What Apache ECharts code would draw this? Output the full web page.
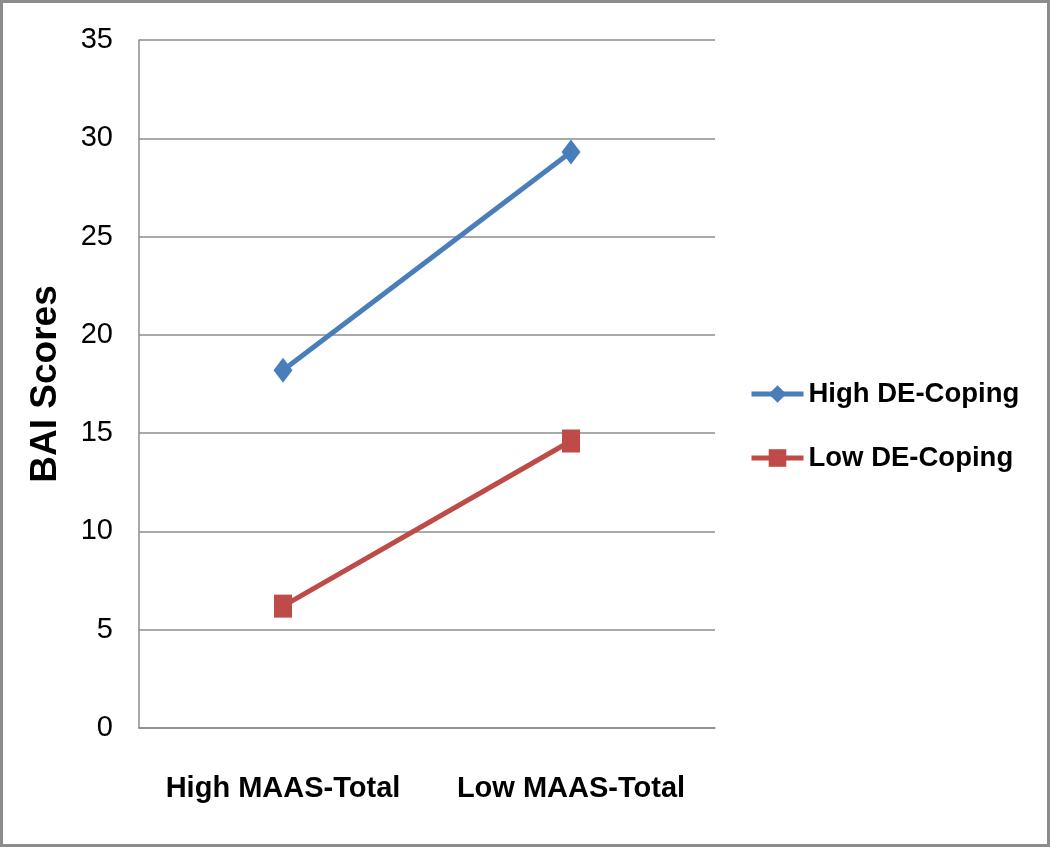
<!DOCTYPE html>
<html>
<head>
<meta charset="utf-8">
<script src="https://cdn.jsdelivr.net/npm/echarts@6/dist/echarts.min.js"></script>
<style>
    html, body { margin: 0; padding: 0; background: #fff; }
    #chartId { width: 1050px; height: 847px; box-sizing: border-box; border: 3px solid #8c8c8c; }
</style>
</head>
<body>
<div id="chartId"></div>
<script>
const categories = ["High MAAS-Total", "Low MAAS-Total"];
const highDECoping = [18.2, 29.3];
const lowDECoping = [6.2, 14.6];
const yTicks = [0, 5, 10, 15, 20, 25, 30, 35];

const fontName = "'Liberation Sans', Arial, sans-serif";

var chart = echarts.init(document.getElementById('chartId'));
var option = {
    animation: false,
    grid: {
        left: 136,
        right: 332,
        top: 37,
        bottom: 116
    },
    legend: {
        orient: 'vertical',
        left: 741,
        top: 372,
        itemWidth: 52,
        itemHeight: 22,
        itemGap: 36,
        lineStyle: { width: 5 },
        textStyle: {
            fontFamily: fontName,
            fontSize: 27.5,
            fontWeight: 'bold',
            color: '#000'
        },
        data: ['High DE-Coping', 'Low DE-Coping']
    },
    xAxis: {
        type: 'category',
        data: categories,
        boundaryGap: true,
        axisLine: { lineStyle: { color: '#8c8c8c', width: 1.5 } },
        axisTick: { show: false },
        axisLabel: {
            interval: 0,
            hideOverlap: false,
            margin: 46,
            fontFamily: fontName,
            fontSize: 29,
            fontWeight: 'bold',
            color: '#000'
        }
    },
    yAxis: {
        type: 'value',
        min: 0,
        max: 35,
        interval: 5,
        name: 'BAI Scores',
        nameLocation: 'middle',
        nameGap: 75,
        nameTextStyle: {
            fontFamily: fontName,
            fontSize: 37,
            fontWeight: 'bold',
            color: '#000'
        },
        axisLine: { show: true, lineStyle: { color: '#8c8c8c', width: 1.5 } },
        axisTick: { show: false },
        axisLabel: {
            margin: 26,
            fontFamily: fontName,
            fontSize: 29,
            color: '#000',
            formatter: function (v) { return yTicks.indexOf(v) >= 0 ? String(v) : ''; }
        },
        splitLine: { lineStyle: { color: '#8c8c8c', width: 1.5 } }
    },
    series: [
        {
            name: 'High DE-Coping',
            type: 'line',
            data: highDECoping,
            symbol: 'diamond',
            symbolSize: [19, 25],
            itemStyle: { color: '#4a7ebb' },
            lineStyle: { width: 5, color: '#4a7ebb' }
        },
        {
            name: 'Low DE-Coping',
            type: 'line',
            data: lowDECoping,
            symbol: 'rect',
            symbolSize: [18, 23],
            itemStyle: { color: '#be4b48' },
            lineStyle: { width: 5, color: '#be4b48' }
        }
    ]
};
chart.setOption(option);
</script>
</body>
</html>
